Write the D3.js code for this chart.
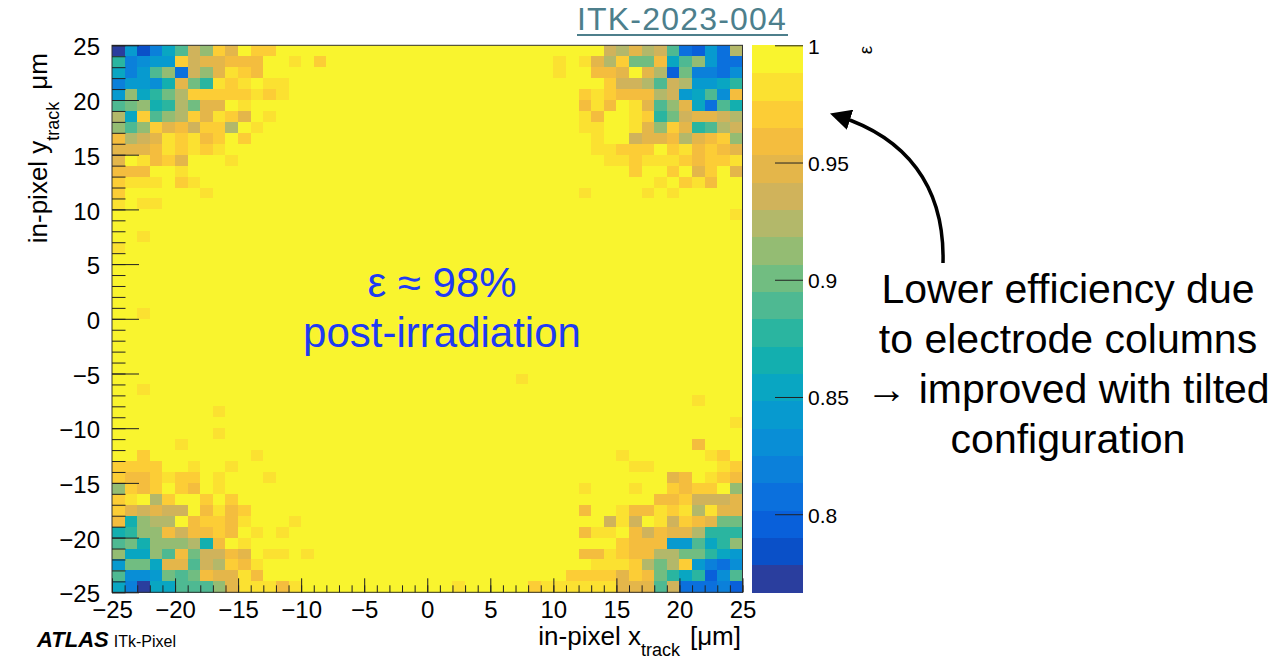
<!DOCTYPE html>
<html><head><meta charset="utf-8">
<script src="https://cdn.jsdelivr.net/npm/d3@7"></script>
<style>body{margin:0;background:#fff;} svg{display:block;}</style>
</head><body>
<svg id="c" width="1272" height="661"></svg>
<script>
// ---- data ----
const xTicks = [-25, -20, -15, -10, -5, 0, 5, 10, 15, 20, 25];
const yTicks = [-25, -20, -15, -10, -5, 0, 5, 10, 15, 20, 25];
const zTicks = [0.8, 0.85, 0.9, 0.95, 1];
const zMin = 0.7667, zMax = 1.0, nBands = 20;
const nBins = 50;
// band codes per cell: 0 = highest efficiency band ... j = lowest; rows from top (y=25) to bottom
const effLeft = [ // x bins -25..-9
"jdifc957240220000","afedd254433300102","cfd97g57412300000","fddeb48a121011000","d7ca8622222121000",
"987ba684401000000","6c297624124010000","79724352260100000","36541213202000000","44431212100000000",
"40132400010000000","33300100000000000","21110210000000000","20000001000000000","10110000000000000",
"00000000000000000","00000000000000000","00100000000000000","10000000000000000","00000000000000000",
"00000000000000000","00000000000000000","00000000000000000","00000000000000000","00100000000000000",
"00000000000000000","00000000000000000","00000000000000000","00000000000000000","00000000000000000",
"00000000000000000","00100000000000000","00000000000000000","00000000100000000","00000000000000000",
"00000000100000000","00000100000000000","00200000000100000","22220010010000000","23321220100010000",
"72320230100000000","21062002020000000","24545503132000000","3b766032231000100","ba773533230101000",
"98b7776b301000000","7cc79385534011010","d88c4495623100000","9eed8983441300000","cfjcc999741113100"];
const effMid = [ // x bins -8..9
"000000000000000000","000000000000000000","000000000000000000","000000000000000000","000000000000000000",
"000000000000000000","000000000000000000","000000000000000000","000000000000000000","000000000000000000",
"000000000000000000","000000000000000000","000000000000000000","000000000000000000","000000000000000000",
"000000000000000000","000000000000000000","000000000000000000","000000000000000000","000000000000000000",
"000000000000000000","000000000000000000","000000000000000000","000000000000000000","000000000000000000",
"000000000000000000","000000000000000000","000000000000000000","000000000000000000","000000000000000000",
"000000000000000100","000000000000000000","000000000000000000","000000000000000000","000000000000000000",
"000000000000000000","000000000000000000","000000000000000000","000000000000000000","000000000000000000",
"000000000000000000","000000000000000000","000000000000000000","000000000000000000","000000000000000000",
"000000000000000000","000000000000000000","000000000000000000","000000000000000000","000000000010000021"];
const effRight = [ // x bins 10..24
"0000564659ghdg6","101462883c97dgg","100334046h8ffge","00002556956ddca","0021233365dc9e3",
"00313014974cg9b","00130012a854456","00110014724a965","000100544364327","000112220213234",
"000011211123221","000000200204204","000000001021300","001000010100000","000000000000000",
"000000000000001","000000000000000","000000000000000","000000000000000","000000000000000",
"000000000000000","000000000000000","000000000000000","000000000000000","000000000000000",
"000000000000000","000000000000000","000000000000000","000000000000000","000000000000000",
"000000000000000","000000000000000","000000000001000","000000000000000","000000000000001",
"000000000000000","000000000003000","000001000000120","000000110000012","000000000430123",
"001000100232207","000000003325554","003001331216144","000051501523488","003110353446aaa",
"000002333dd9ca7","003312336688acd","00011126862dfge","022224238acahe9","1111144495gggfh"];
const bandColors = ["#F9F42E","#FBE131","#FCCD36","#F4BD3E","#E4B64A","#D0B35B","#B3B86A","#94BC73","#71BD81","#4EB992",
"#2AB5A0","#13AFAF","#09A6C2","#079ACF","#098ED6","#0B80DA","#0B70DD","#0960DA","#0A50C8","#2A3E9E"];
const codeChars = "0123456789abcdefghij";
const noteLines = ["Lower efficiency due","to electrode columns","\u2192 improved with tilted","configuration"];

// ---- build ----
const svg = d3.select("#c");
const FONT = "Liberation Sans, Arial, sans-serif";
const X0 = 112, X1 = 742.5, Y0 = 45.3, Y1 = 592.3;
const x = d3.scaleLinear().domain([-25, 25]).range([X0, X1]);
const y = d3.scaleLinear().domain([-25, 25]).range([Y1, Y0]);
const step = (zMax - zMin) / nBands;
const color = d3.scaleQuantize().domain([zMin, zMax]).range(bandColors.slice().reverse());

const cells = [];
for (let r = 0; r < nBins; r++) {
  const row = effLeft[r].padEnd(17, "0").slice(0, 17) + effMid[r].padEnd(18, "0").slice(0, 18) + effRight[r].padEnd(15, "0").slice(0, 15);
  for (let c = 0; c < nBins; c++) {
    const k = codeChars.indexOf(row[c]);
    cells.push({xb: -25 + c, yb: 24 - r, v: zMax - (k + 0.5) * step});
  }
}
svg.append("g").selectAll("rect").data(cells).join("rect")
  .attr("x", d => x(d.xb)).attr("y", d => y(d.yb + 1))
  .attr("width", x(1) - x(0) + 0.6).attr("height", y(0) - y(1) + 0.6)
  .attr("fill", d => color(d.v)).attr("shape-rendering", "crispEdges");

svg.append("rect").attr("x", X0).attr("y", Y0).attr("width", X1 - X0).attr("height", Y1 - Y0)
  .attr("fill", "none").attr("stroke", "#333").attr("stroke-width", 1);

const fmt = d => d < 0 ? "\u2212" + Math.abs(d) : String(d);
const minorX = d3.range(-25, 26, 1);
// y axis
const gy = svg.append("g").attr("transform", `translate(${X0},0)`)
  .call(d3.axisLeft(y).tickValues(yTicks).tickSize(-27).tickPadding(12).tickFormat(fmt));
svg.append("g").attr("transform", `translate(${X0},0)`)
  .call(d3.axisLeft(y).tickValues(minorX).tickSize(-13.5).tickFormat(""));
// x axis
const gx = svg.append("g").attr("transform", `translate(0,${Y1})`)
  .call(d3.axisBottom(x).tickValues(xTicks).tickSize(-14).tickPadding(9).tickFormat(fmt));
svg.append("g").attr("transform", `translate(0,${Y1})`)
  .call(d3.axisBottom(x).tickValues(minorX).tickSize(-7).tickFormat(""));
svg.selectAll(".domain").remove();
svg.selectAll(".tick line").attr("stroke", "#222").attr("stroke-width", 1);
gy.selectAll("text").attr("font-size", 24).attr("font-family", FONT).attr("fill", "#000").attr("dy", "0.4em");
gx.selectAll("text").attr("font-size", 24).attr("font-family", FONT).attr("fill", "#000");

// colour bar
const CB0 = 752, CB1 = 803;
const zy = d3.scaleLinear().domain([zMin, zMax]).range([Y1, Y0]);
const bands = d3.range(nBands).map(i => ({lo: zMin + i * step, hi: zMin + (i + 1) * step}));
svg.append("g").selectAll("rect").data(bands).join("rect")
  .attr("x", CB0).attr("width", CB1 - CB0)
  .attr("y", d => zy(d.hi)).attr("height", d => zy(d.lo) - zy(d.hi) + 0.5)
  .attr("fill", d => color((d.lo + d.hi) / 2)).attr("shape-rendering", "crispEdges");
const gz = svg.append("g").attr("transform", `translate(${CB1},0)`)
  .call(d3.axisRight(zy).tickValues(zTicks).tickSize(-28).tickPadding(5).tickFormat(d => String(d)));
gz.select(".domain").remove();
gz.selectAll(".tick line").attr("stroke", "#222");
gz.selectAll("text").attr("font-size", 21).attr("font-family", FONT).attr("fill", "#000").attr("dy", "0.38em");
svg.append("text").attr("transform", "translate(872,50) rotate(-90)").attr("text-anchor", "middle")
  .attr("font-size", 19).attr("font-family", FONT).text("\u03b5");

// axis titles
const xt = svg.append("text").attr("x", 741).attr("y", 645).attr("text-anchor", "end")
  .attr("font-size", 26).attr("font-family", FONT).attr("fill", "#000");
xt.append("tspan").text("in-pixel x");
xt.append("tspan").attr("font-size", 18).attr("dy", 11).text("track");
xt.append("tspan").attr("font-size", 26).attr("dy", -11).attr("dx", 10).text("[\u03bcm]");
const yt = svg.append("text").attr("transform", "translate(47,53) rotate(-90)").attr("text-anchor", "end")
  .attr("font-size", 26).attr("font-family", FONT).attr("fill", "#000");
yt.append("tspan").text("in-pixel y");
yt.append("tspan").attr("font-size", 18).attr("dy", 12).text("track");
yt.append("tspan").attr("font-size", 26).attr("dy", -12).attr("dx", 12).text("\u03bcm");

// ATLAS label
const at = svg.append("text").attr("x", 37).attr("y", 647).attr("font-family", FONT);
at.append("tspan").attr("font-size", 22).attr("font-weight", "bold").attr("font-style", "italic").text("ATLAS");
at.append("tspan").attr("font-size", 16).attr("dx", 5).text("ITk-Pixel");

// reference tag
svg.append("text").attr("x", 682).attr("y", 30).attr("text-anchor", "middle").attr("font-size", 32)
  .attr("letter-spacing", 1.2).attr("font-family", FONT).attr("fill", "#4D7F8C").text("ITK-2023-004");
svg.append("line").attr("x1", 577).attr("x2", 788).attr("y1", 35).attr("y2", 35).attr("stroke", "#4D7F8C").attr("stroke-width", 2);

// in-plot annotation
svg.append("text").attr("x", 442).attr("y", 297).attr("text-anchor", "middle").attr("font-size", 42)
  .attr("font-family", FONT).attr("fill", "#1F3BF2").text("\u03b5 \u2248 98%");
svg.append("text").attr("x", 442).attr("y", 347).attr("text-anchor", "middle").attr("font-size", 42)
  .attr("font-family", FONT).attr("fill", "#1F3BF2").text("post-irradiation");

// right annotation
svg.append("g").selectAll("text").data(noteLines).join("text")
  .attr("x", 1068).attr("y", (d, i) => 303 + i * 50).attr("text-anchor", "middle").attr("font-size", 41)
  .attr("font-family", FONT).attr("fill", "#000").text(d => d);

// arrow
const defs = svg.append("defs");
defs.append("marker").attr("id", "ah").attr("viewBox", "0 0 10 10").attr("refX", 6).attr("refY", 5)
  .attr("markerWidth", 6).attr("markerHeight", 6).attr("orient", "auto")
  .append("path").attr("d", "M0,0 L10,5 L0,10 z").attr("fill", "#000");
svg.append("path").attr("d", "M943,263 C945,185 905,137 838,116").attr("fill", "none")
  .attr("stroke", "#000").attr("stroke-width", 3.5).attr("marker-end", "url(#ah)");
</script>
</body></html>
